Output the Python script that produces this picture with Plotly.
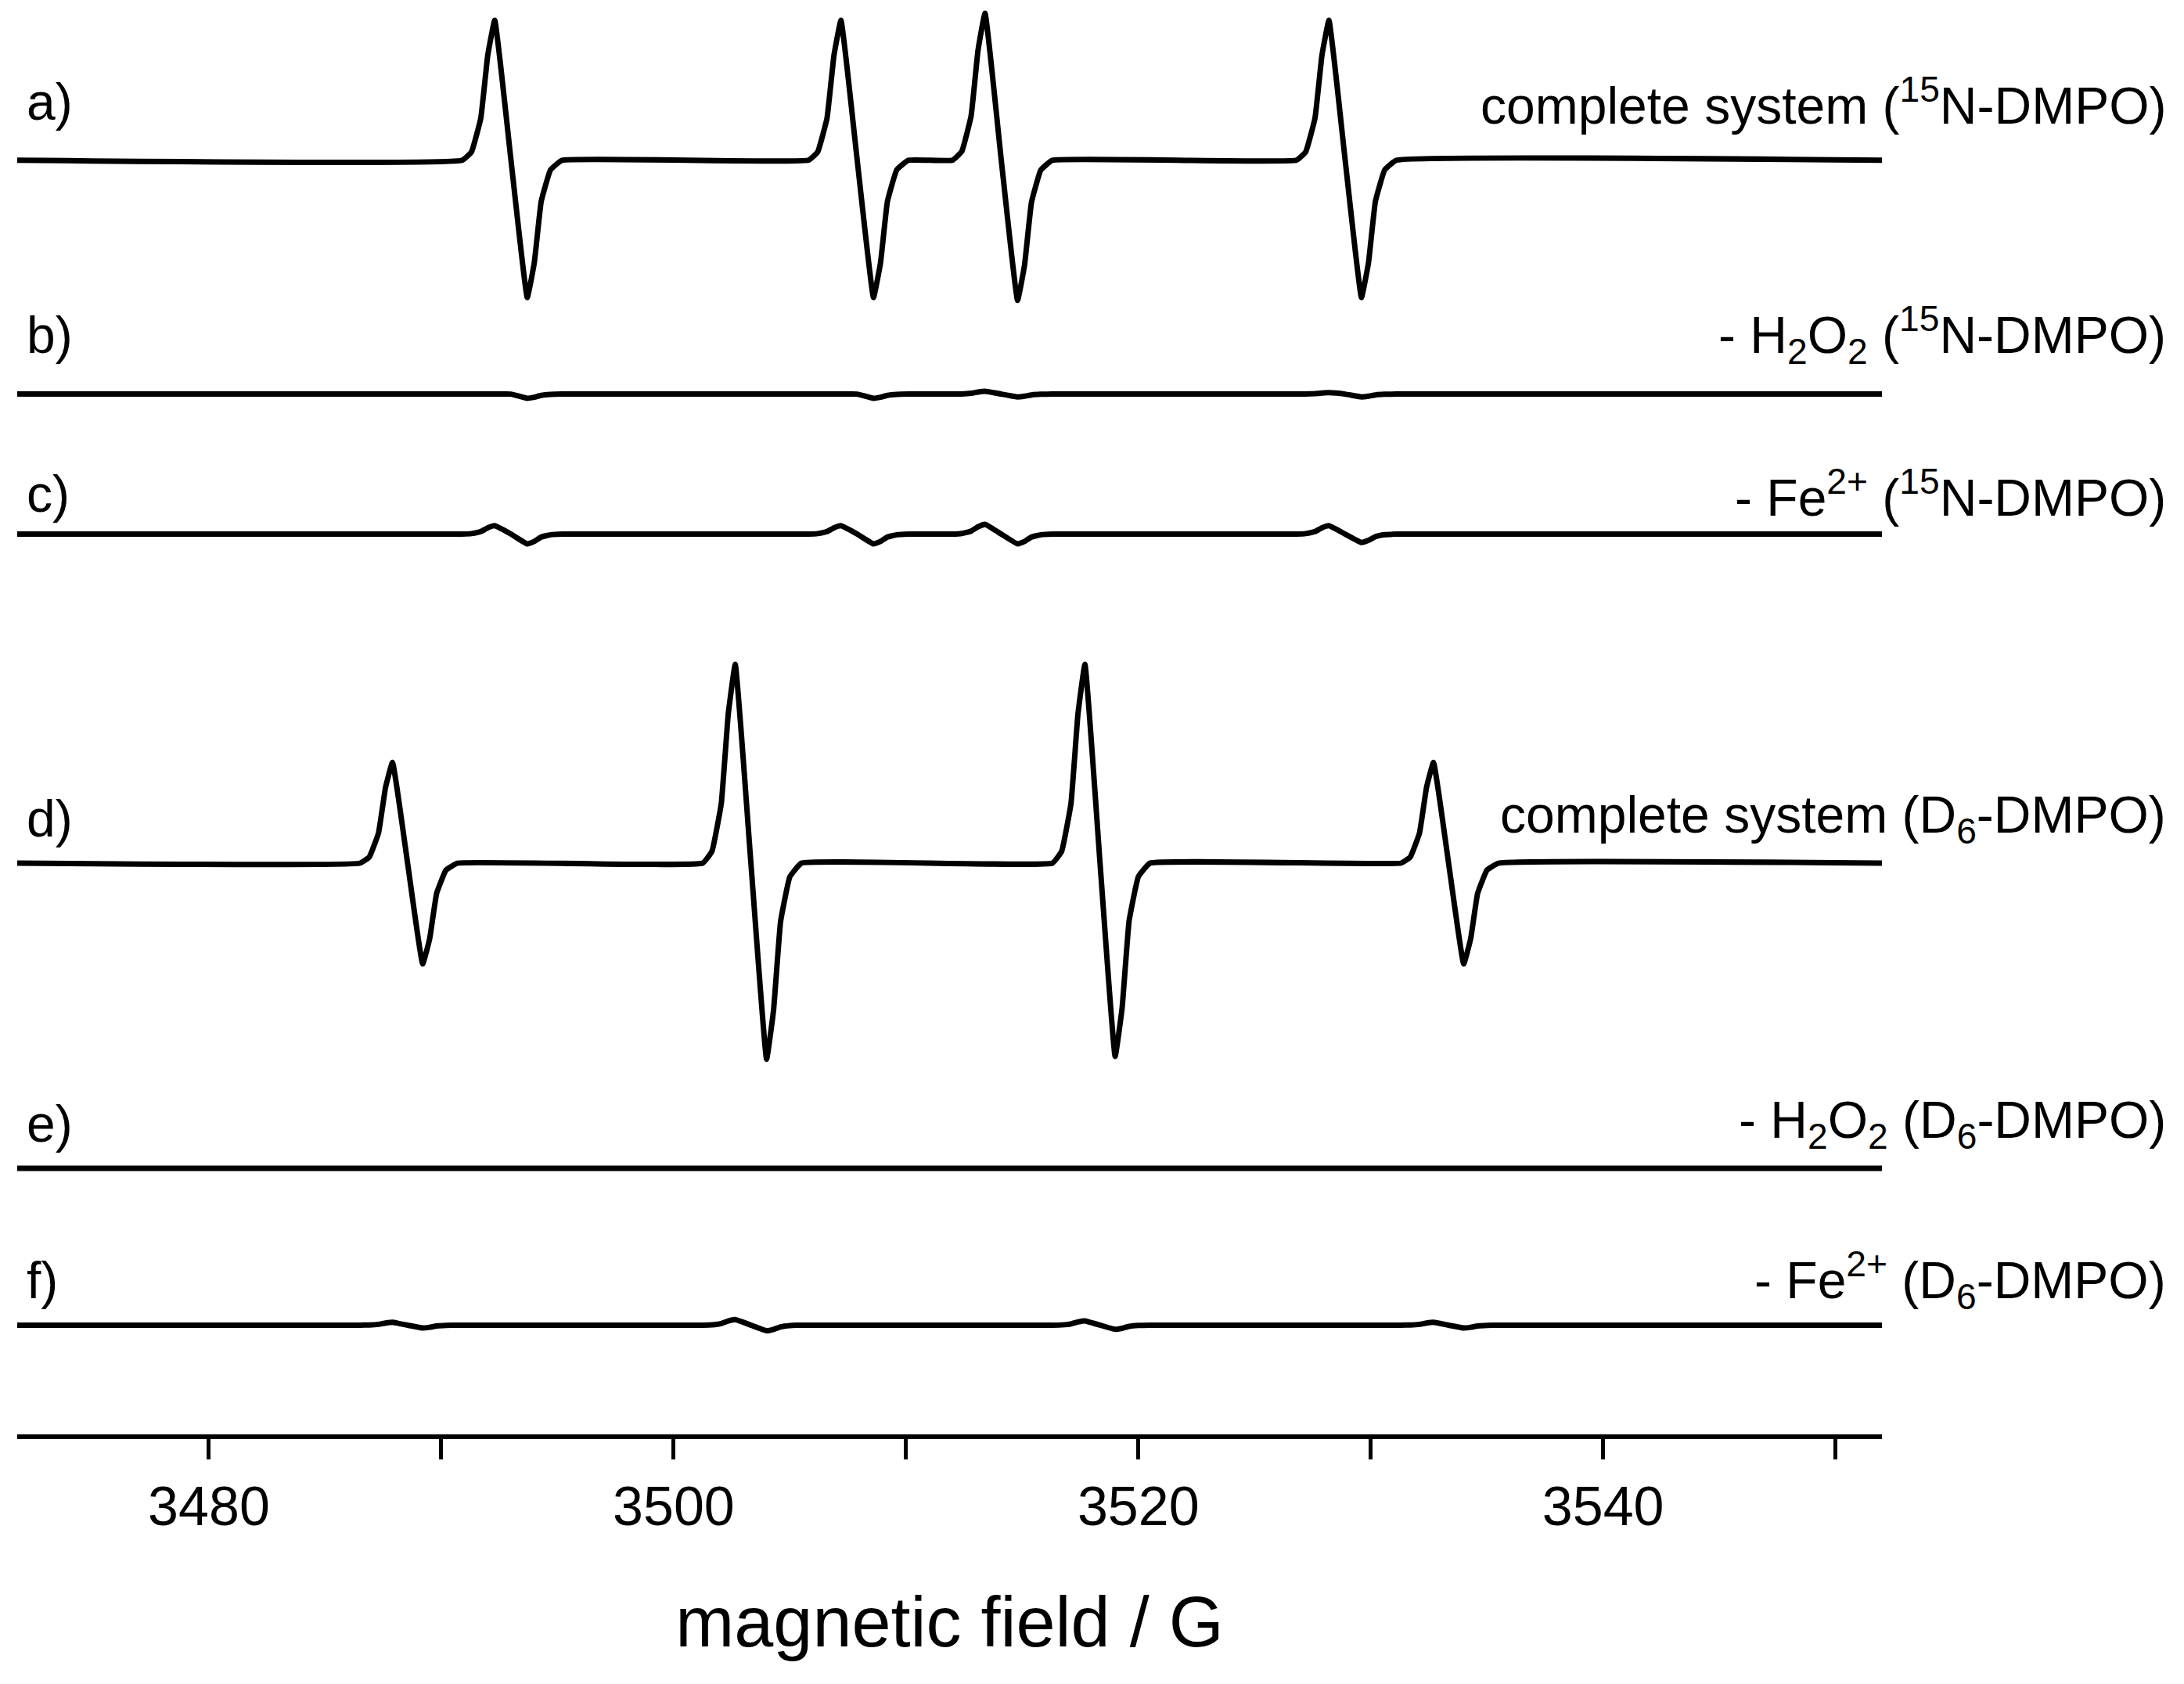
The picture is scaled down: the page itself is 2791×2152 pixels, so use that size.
import plotly.graph_objects as go

# field positions (G) of derivative maxima / minima
n15_max = [3492.3, 3507.2, 3513.4, 3528.2]
n15_min = [3493.7, 3508.6, 3514.8, 3529.6]
d6_max = [3487.9, 3502.65, 3517.7, 3532.7]
d6_min = [3489.2, 3504.0, 3519.0, 3534.0]

# amplitudes (up, down) per line for each spectrum
amp_a = [(100, 98), (100, 98), (105, 100), (100, 98)]
amp_b = [(0, 3), (0, 3), (2, 2), (1, 2)]
amp_c = [(6, 7), (6, 7), (7, 7), (6, 6)]
amp_d = [(72, 72), (142, 140), (142, 138), (72, 72)]
amp_e = [(0, 0), (0, 0), (0, 0), (0, 0)]
amp_f = [(2, 2), (4, 4), (3, 3), (2, 2)]

baselines = [110, 277, 377, 612, 830, 942]
labels_left = ["a)", "b)", "c)", "d)", "e)", "f)"]
labels_right = [
    "complete system (<sup>15</sup>N-DMPO)",
    "- H<sub>2</sub>O<sub>2</sub> (<sup>15</sup>N-DMPO)",
    "- Fe<sup>2+</sup> (<sup>15</sup>N-DMPO)",
    "complete system (D<sub>6</sub>-DMPO)",
    "- H<sub>2</sub>O<sub>2</sub> (D<sub>6</sub>-DMPO)",
    "- Fe<sup>2+</sup> (D<sub>6</sub>-DMPO)",
]
label_y = [68, 235, 348, 580, 798, 910]

x_lo, x_hi = 3471.75, 3552.0

# shape of one derivative line: (field offset, fraction)
up_side = [(-1.4, 0.0), (-1.0, 0.06), (-0.6, 0.3), (-0.3, 0.75), (0.0, 1.0)]
down_side = [(0.0, 1.0), (0.3, 0.75), (0.6, 0.3), (1.0, 0.07), (1.5, 0.0)]


def spectrum(maxs, mins, amps, base):
    xs, ys = [x_lo], [base]
    for fmax, fmin, (up, dn) in zip(maxs, mins, amps):
        for off, fr in up_side:
            xs.append(fmax + off)
            ys.append(base - fr * up)
        xs.append((fmax + fmin) / 2)
        ys.append(base)
        for off, fr in down_side:
            xs.append(fmin + off)
            ys.append(base + fr * dn)
    xs.append(x_hi)
    ys.append(base)
    return xs, [-v for v in ys]


sets = [
    (n15_max, n15_min, amp_a),
    (n15_max, n15_min, amp_b),
    (n15_max, n15_min, amp_c),
    (d6_max, d6_min, amp_d),
    (d6_max, d6_min, amp_e),
    (d6_max, d6_min, amp_f),
]

fig = go.Figure()
for (mx, mn, am), base in zip(sets, baselines):
    xs, ys = spectrum(mx, mn, am, base)
    fig.add_trace(go.Scatter(x=xs, y=ys, mode="lines", line_shape="spline",
                             line=dict(color="black", width=7, smoothing=0.3),
                             showlegend=False))

font = dict(family="Liberation Sans, Arial", size=66, color="black")
for i in range(6):
    fig.add_annotation(x=0.004, y=-label_y[i], xref="paper", yref="y", text=labels_left[i],
                       showarrow=False, xanchor="left", font=font)
    fig.add_annotation(x=1.153, y=-label_y[i], xref="paper", yref="y", text=labels_right[i],
                       showarrow=False, xanchor="right", font=font)

fig.update_layout(
    width=2791, height=2152,
    margin=dict(l=14, r=394, t=0, b=327),
    plot_bgcolor="white", paper_bgcolor="white",
    font=font,
    xaxis=dict(range=[x_lo, x_hi], showline=True, linecolor="black", linewidth=6,
               showgrid=False, zeroline=False, ticks="outside", ticklen=26, tickwidth=5,
               tickcolor="black", tickvals=[3480, 3500, 3520, 3540],
               tickfont=dict(family="Liberation Sans, Arial", size=70),
               minor=dict(tickvals=[3490, 3510, 3530, 3550], ticks="outside",
                          ticklen=26, tickwidth=5, tickcolor="black"),
               title=dict(text="magnetic field / G", standoff=80,
                          font=dict(family="Liberation Sans, Arial", size=90))),
    yaxis=dict(range=[-1020, 0], visible=False),
)

fig.write_html("out.html")
